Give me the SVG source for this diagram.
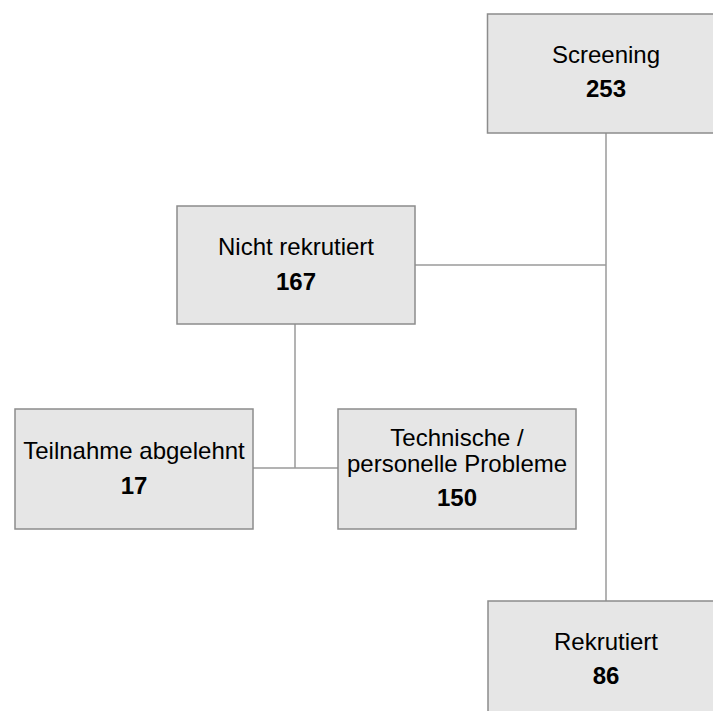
<svg xmlns="http://www.w3.org/2000/svg" width="713" height="711" viewBox="0 0 713 711">
<style>
.box{fill:#e6e6e6;stroke:#8c8c8c;stroke-width:1.5}
.lbl{font-family:"Liberation Sans",Arial,sans-serif;font-size:24px;fill:#000;text-anchor:middle}
.num{font-weight:bold}
.con{stroke:#9a9a9a;stroke-width:1.5;fill:none}
</style>
<rect width="713" height="711" fill="#fff"/>
<g id="connectors">
<path class="con" d="M606 133V601"/>
<path class="con" d="M415 265H606"/>
<path class="con" d="M295 324V468"/>
<path class="con" d="M253 468H338"/>
</g>
<g id="screening">
<rect class="box" x="487.5" y="14" width="238" height="119"/>
<text class="lbl" x="606" y="63">Screening</text>
<text class="lbl num" x="606" y="97">253</text>
</g>
<g id="nicht-rekrutiert">
<rect class="box" x="177" y="206" width="238" height="118"/>
<text class="lbl" x="296" y="255">Nicht rekrutiert</text>
<text class="lbl num" x="296" y="290">167</text>
</g>
<g id="teilnahme-abgelehnt">
<rect class="box" x="15" y="409" width="238" height="120"/>
<text class="lbl" x="134" y="459">Teilnahme abgelehnt</text>
<text class="lbl num" x="134" y="494">17</text>
</g>
<g id="technische-probleme">
<rect class="box" x="338" y="409" width="238" height="120"/>
<text class="lbl" x="457" y="446">Technische /</text>
<text class="lbl" x="457" y="472">personelle Probleme</text>
<text class="lbl num" x="457" y="506">150</text>
</g>
<g id="rekrutiert">
<rect class="box" x="488" y="601" width="238" height="120"/>
<text class="lbl" x="606" y="650">Rekrutiert</text>
<text class="lbl num" x="606" y="684">86</text>
</g>
</svg>
